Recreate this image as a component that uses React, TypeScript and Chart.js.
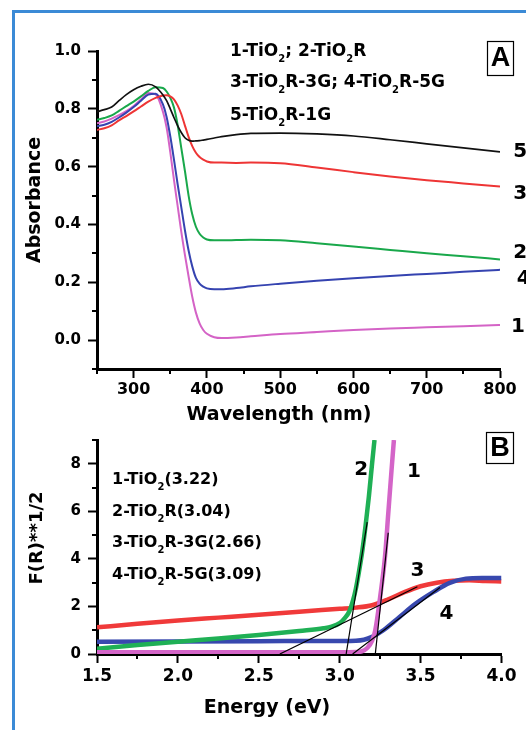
import React, { useEffect, useRef } from "react";
import { Chart, registerables } from "chart.js";

Chart.register(...registerables);

const FONT = "'DejaVu Sans', 'Liberation Sans', Arial, sans-serif";
const FONT_BOX = "'Liberation Sans', Arial, sans-serif";

// ---------------- Panel A: UV-Vis absorbance ----------------
const wavelength = [250, 260, 270, 280, 290, 300, 310, 320, 330, 340, 345, 350, 355, 360, 365, 370, 375, 380, 385, 390, 395, 400, 410, 420, 440, 460, 500, 550, 600, 650, 700, 750, 800];
const absTiO2R1G = [0.790, 0.797, 0.806, 0.828, 0.849, 0.866, 0.878, 0.885, 0.876, 0.848, 0.828, 0.800, 0.770, 0.742, 0.718, 0.700, 0.691, 0.688, 0.689, 0.690, 0.692, 0.694, 0.699, 0.704, 0.711, 0.715, 0.716, 0.713, 0.706, 0.693, 0.679, 0.665, 0.651];
const absTiO2R3G = [0.727, 0.733, 0.743, 0.760, 0.775, 0.791, 0.808, 0.825, 0.838, 0.846, 0.847, 0.843, 0.833, 0.812, 0.782, 0.742, 0.703, 0.671, 0.648, 0.633, 0.624, 0.618, 0.614, 0.614, 0.613, 0.614, 0.612, 0.597, 0.581, 0.566, 0.553, 0.542, 0.531];
const absTiO2R = [0.762, 0.768, 0.777, 0.793, 0.809, 0.825, 0.843, 0.862, 0.875, 0.872, 0.860, 0.838, 0.805, 0.745, 0.665, 0.585, 0.500, 0.435, 0.392, 0.368, 0.355, 0.348, 0.345, 0.345, 0.346, 0.347, 0.345, 0.335, 0.324, 0.312, 0.300, 0.290, 0.279];
const absTiO2R5G = [0.740, 0.745, 0.755, 0.770, 0.787, 0.806, 0.828, 0.849, 0.852, 0.815, 0.772, 0.705, 0.625, 0.540, 0.460, 0.380, 0.310, 0.255, 0.215, 0.195, 0.185, 0.179, 0.176, 0.176, 0.180, 0.186, 0.195, 0.205, 0.214, 0.222, 0.229, 0.236, 0.243];
const absTiO2 = [0.750, 0.756, 0.766, 0.778, 0.792, 0.810, 0.832, 0.855, 0.850, 0.790, 0.735, 0.650, 0.555, 0.465, 0.375, 0.295, 0.220, 0.150, 0.095, 0.058, 0.035, 0.022, 0.010, 0.007, 0.009, 0.013, 0.021, 0.028, 0.035, 0.040, 0.044, 0.048, 0.052];

const wavelengthTicks = [300, 400, 500, 600, 700, 800];
const wavelengthMinorTicks = [250, 350, 450, 550, 650, 750];
const absTicks = [0, 0.2, 0.4, 0.6, 0.8, 1.0];
const absMinorTicks = [-0.1, 0.1, 0.3, 0.5, 0.7, 0.9];

const legendA = ["1-TiO_2; 2-TiO_2R", "3-TiO_2R-3G; 4-TiO_2R-5G", "5-TiO_2R-1G"];
const curveLabelsA = [
  { text: "5", x: 818, y: 0.653 },
  { text: "3", x: 818, y: 0.507 },
  { text: "2", x: 818, y: 0.302 },
  { text: "4", x: 823, y: 0.212 },
  { text: "1", x: 815, y: 0.045 },
];

// ---------------- Panel B: Kubelka-Munk ----------------
const energyTiO2 = [1.5, 2.0, 2.5, 3.0, 3.1, 3.14, 3.17, 3.2, 3.22, 3.25, 3.28, 3.3, 3.32, 3.335];
const kmTiO2 = [0.07, 0.07, 0.07, 0.07, 0.08, 0.12, 0.25, 0.55, 1.0, 2.4, 4.1, 5.9, 7.7, 9.0];
const energyTiO2R = [1.5, 1.75, 2.0, 2.25, 2.5, 2.75, 2.9, 2.95, 3.0, 3.03, 3.06, 3.08, 3.1, 3.12, 3.14, 3.16, 3.18, 3.2, 3.215];
const kmTiO2R = [0.22, 0.38, 0.52, 0.65, 0.8, 0.97, 1.08, 1.15, 1.3, 1.5, 1.8, 2.2, 2.75, 3.5, 4.35, 5.4, 6.6, 8.0, 9.0];
const energyR3G = [1.5, 1.75, 2.0, 2.25, 2.5, 2.75, 3.0, 3.1, 3.2, 3.3, 3.4, 3.5, 3.6, 3.7, 3.8, 3.9, 4.0];
const kmR3G = [1.12, 1.27, 1.41, 1.53, 1.65, 1.78, 1.9, 1.95, 2.05, 2.3, 2.6, 2.85, 3.0, 3.08, 3.1, 3.07, 3.05];
const energyR5G = [1.5, 2.0, 2.5, 3.0, 3.1, 3.15, 3.2, 3.27, 3.37, 3.47, 3.58, 3.68, 3.78, 3.88, 4.0];
const kmR5G = [0.52, 0.53, 0.54, 0.55, 0.56, 0.6, 0.72, 1.0, 1.56, 2.12, 2.61, 2.99, 3.17, 3.2, 3.2];

const fitTiO2E = [3.22, 3.30];
const fitTiO2K = [0, 5.1];
const fitTiO2RE = [3.04, 3.17];
const fitTiO2RK = [0, 5.55];
const fitR3GE = [2.63, 3.48];
const fitR3GK = [0, 2.83];
const fitR5GE = [3.08, 3.62];
const fitR5GK = [0, 2.8];

const energyTicks = [1.5, 2.0, 2.5, 3.0, 3.5, 4.0];
const energyMinorTicks = [1.75, 2.25, 2.75, 3.25, 3.75];
const kmTicks = [0, 2, 4, 6, 8];
const kmMinorTicks = [1, 3, 5, 7, 9];

const legendB = ["1-TiO_2(3.22)", "2-TiO_2R(3.04)", "3-TiO_2R-3G(2.66)", "4-TiO_2R-5G(3.09)"];
const curveLabelsB = [
  { text: "2", x: 3.133, y: 7.76 },
  { text: "1", x: 3.459, y: 7.68 },
  { text: "3", x: 3.48, y: 3.52 },
  { text: "4", x: 3.66, y: 1.68 },
];

// ---------------- helpers ----------------
const zip = (xs: number[], ys: number[]) => xs.map((x, i) => ({ x, y: ys[i] }));

function drawRich(ctx: CanvasRenderingContext2D, str: string, x: number, y: number, size: number) {
  const parts = str.split(/_(\d)/);
  const main = `bold ${size}px ${FONT}`;
  const sub = `bold ${Math.round(size * 0.6)}px ${FONT}`;
  ctx.textAlign = "left";
  ctx.textBaseline = "alphabetic";
  let cx = x;
  parts.forEach((p, i) => {
    ctx.font = i % 2 ? sub : main;
    ctx.fillText(p, cx, i % 2 ? y + size * 0.38 : y);
    cx += ctx.measureText(p).width;
  });
}

type Overlay = {
  minorX: number[];
  minorY: number[];
  minorLen: number;
  draw: (chart: any, ctx: CanvasRenderingContext2D) => void;
};

function makeOverlay(o: Overlay) {
  return {
    id: "overlay",
    afterDraw(chart: any) {
      const ctx: CanvasRenderingContext2D = chart.ctx;
      const xs = chart.scales.x;
      const ys = chart.scales.y;
      const area = chart.chartArea;
      ctx.save();
      ctx.strokeStyle = "#000";
      ctx.lineWidth = 2;
      ctx.beginPath();
      for (const v of o.minorX) {
        const px = Math.round(xs.getPixelForValue(v));
        ctx.moveTo(px, area.bottom);
        ctx.lineTo(px, area.bottom + o.minorLen);
      }
      for (const v of o.minorY) {
        const py = Math.round(ys.getPixelForValue(v));
        ctx.moveTo(area.left - o.minorLen, py);
        ctx.lineTo(area.left, py);
      }
      ctx.stroke();
      ctx.fillStyle = "#000";
      o.draw(chart, ctx);
      ctx.restore();
    },
  };
}

function axisCommon(tickSize: number, padding: number) {
  return {
    grid: { display: true, drawOnChartArea: false, drawTicks: true, tickLength: 9, tickWidth: 2, tickColor: "#000" },
    border: { display: true, color: "#000", width: 3 },
    ticks: { color: "#000", font: { family: FONT, size: tickSize, weight: "bold" as const }, padding, autoSkip: false, maxRotation: 0 },
  };
}

function lineDs(data: { x: number; y: number }[], color: string, width: number, smooth = true) {
  return {
    data,
    borderColor: color,
    backgroundColor: color,
    borderWidth: width,
    pointRadius: 0,
    fill: false,
    cubicInterpolationMode: smooth ? ("monotone" as const) : ("default" as const),
    tension: 0,
  };
}

export default function App() {
  const refA = useRef<HTMLCanvasElement>(null);
  const refB = useRef<HTMLCanvasElement>(null);

  useEffect(() => {
    const ca = axisCommon(16, 2);
    const cy = axisCommon(15, 7);
    const overlayA = makeOverlay({
      minorX: wavelengthMinorTicks,
      minorY: absMinorTicks,
      minorLen: 5,
      draw: (chart, ctx) => {
        legendA.forEach((t, i) => drawRich(ctx, t, 230, [56, 87, 119.5][i], 17));
        ctx.lineWidth = 1.2;
        ctx.strokeRect(487.5, 41.5, 26, 34);
        ctx.font = `bold 27px ${FONT_BOX}`;
        ctx.textAlign = "center";
        ctx.textBaseline = "middle";
        ctx.fillText("A", 500.5, 59);
        ctx.font = `bold 20px ${FONT}`;
        ctx.textAlign = "left";
        for (const l of curveLabelsA) {
          ctx.fillText(l.text, chart.scales.x.getPixelForValue(l.x), chart.scales.y.getPixelForValue(l.y));
        }
        ctx.font = `bold 19px ${FONT}`;
        ctx.textAlign = "center";
        ctx.fillText("Wavelength (nm)", 279, 415);
        ctx.save();
        ctx.translate(35, 200);
        ctx.rotate(-Math.PI / 2);
        ctx.font = `bold 19px ${FONT}`;
        ctx.fillText("Absorbance", 0, 0);
        ctx.restore();
      },
    });

    const chartA = new Chart(refA.current as HTMLCanvasElement, {
      type: "line",
      data: {
        datasets: [
          lineDs(zip(wavelength, absTiO2R1G), "#111111", 1.7),
          lineDs(zip(wavelength, absTiO2R3G), "#ee3535", 2),
          lineDs(zip(wavelength, absTiO2R), "#19a84b", 2),
          lineDs(zip(wavelength, absTiO2R5G), "#3543b0", 2),
          lineDs(zip(wavelength, absTiO2), "#d463c6", 2),
        ],
      },
      options: {
        responsive: false,
        animation: false,
        events: [],
        layout: { padding: { left: 0, right: 26, top: 51, bottom: 0 } },
        plugins: { legend: { display: false }, tooltip: { enabled: false } },
        scales: {
          x: {
            type: "linear",
            min: 250,
            max: 800,
            ...ca,
            ticks: { ...ca.ticks, callback: (v: any) => String(v) },
            afterBuildTicks: (s: any) => {
              s.ticks = wavelengthTicks.map((v) => ({ value: v }));
            },
            afterFit: (s: any) => {
              s.height = 71;
            },
          },
          y: {
            type: "linear",
            min: -0.1,
            max: 1.0,
            ...cy,
            ticks: { ...cy.ticks, callback: (v: any) => Number(v).toFixed(1) },
            afterBuildTicks: (s: any) => {
              s.ticks = absTicks.map((v) => ({ value: v }));
            },
            afterFit: (s: any) => {
              s.width = 97;
            },
          },
        },
      },
      plugins: [overlayA],
    } as any);

    const cb = axisCommon(17, 3);
    const cby = axisCommon(15, 7);
    const overlayB = makeOverlay({
      minorX: energyMinorTicks,
      minorY: kmMinorTicks,
      minorLen: 5,
      draw: (chart, ctx) => {
        legendB.forEach((t, i) => drawRich(ctx, t, 112, 64 + i * 31.5, 16));
        ctx.lineWidth = 1.2;
        ctx.strokeRect(486.5, 12.5, 27, 31);
        ctx.font = `bold 27px ${FONT_BOX}`;
        ctx.textAlign = "center";
        ctx.textBaseline = "middle";
        ctx.fillText("B", 500, 29);
        ctx.font = `bold 20px ${FONT}`;
        for (const l of curveLabelsB) {
          ctx.fillText(l.text, chart.scales.x.getPixelForValue(l.x), chart.scales.y.getPixelForValue(l.y));
        }
        ctx.font = `bold 19px ${FONT}`;
        ctx.fillText("Energy (eV)", 267, 288);
        ctx.save();
        ctx.translate(37, 118);
        ctx.rotate(-Math.PI / 2);
        ctx.font = `bold 18px ${FONT}`;
        ctx.fillText("F(R)**1/2", 0, 0);
        ctx.restore();
      },
    });

    const chartB = new Chart(refB.current as HTMLCanvasElement, {
      type: "line",
      data: {
        datasets: [
          lineDs(zip(fitTiO2E, fitTiO2K), "#000000", 1.2, false),
          lineDs(zip(fitTiO2RE, fitTiO2RK), "#000000", 1.2, false),
          lineDs(zip(fitR3GE, fitR3GK), "#000000", 1.2, false),
          lineDs(zip(fitR5GE, fitR5GK), "#000000", 1.2, false),
          lineDs(zip(energyTiO2, kmTiO2), "#d465c8", 4.5),
          lineDs(zip(energyTiO2R, kmTiO2R), "#1fb055", 4.5),
          lineDs(zip(energyR5G, kmR5G), "#3848ae", 4.5),
          lineDs(zip(energyR3G, kmR3G), "#f03a3a", 4.5),
        ],
      },
      options: {
        responsive: false,
        animation: false,
        events: [],
        layout: { padding: { left: 0, right: 24.5, top: 20, bottom: 0 } },
        plugins: { legend: { display: false }, tooltip: { enabled: false } },
        scales: {
          x: {
            type: "linear",
            min: 1.5,
            max: 4.0,
            ...cb,
            ticks: { ...cb.ticks, callback: (v: any) => Number(v).toFixed(1) },
            afterBuildTicks: (s: any) => {
              s.ticks = energyTicks.map((v) => ({ value: v }));
            },
            afterFit: (s: any) => {
              s.height = 76;
            },
          },
          y: {
            type: "linear",
            min: 0,
            max: 9,
            ...cby,
            ticks: { ...cby.ticks, callback: (v: any) => String(v) },
            afterBuildTicks: (s: any) => {
              s.ticks = kmTicks.map((v) => ({ value: v }));
            },
            afterFit: (s: any) => {
              s.width = 97;
            },
          },
        },
      },
      plugins: [overlayB],
    } as any);

    return () => {
      chartA.destroy();
      chartB.destroy();
    };
  }, []);

  return (
    <div style={{ position: "absolute", left: 0, top: 0, width: 526, height: 730, background: "#fff", overflow: "hidden" }}>
      <div
        style={{
          position: "absolute",
          left: 12,
          top: 10,
          width: 700,
          height: 900,
          borderLeft: "3px solid #3b8ad6",
          borderTop: "3px solid #3b8ad6",
        }}
      />
      <canvas ref={refB} width={526} height={310} style={{ position: "absolute", left: 0, top: 420, width: 526, height: 310 }} />
      <canvas ref={refA} width={526} height={440} style={{ position: "absolute", left: 0, top: 0, width: 526, height: 440 }} />
    </div>
  );
}
